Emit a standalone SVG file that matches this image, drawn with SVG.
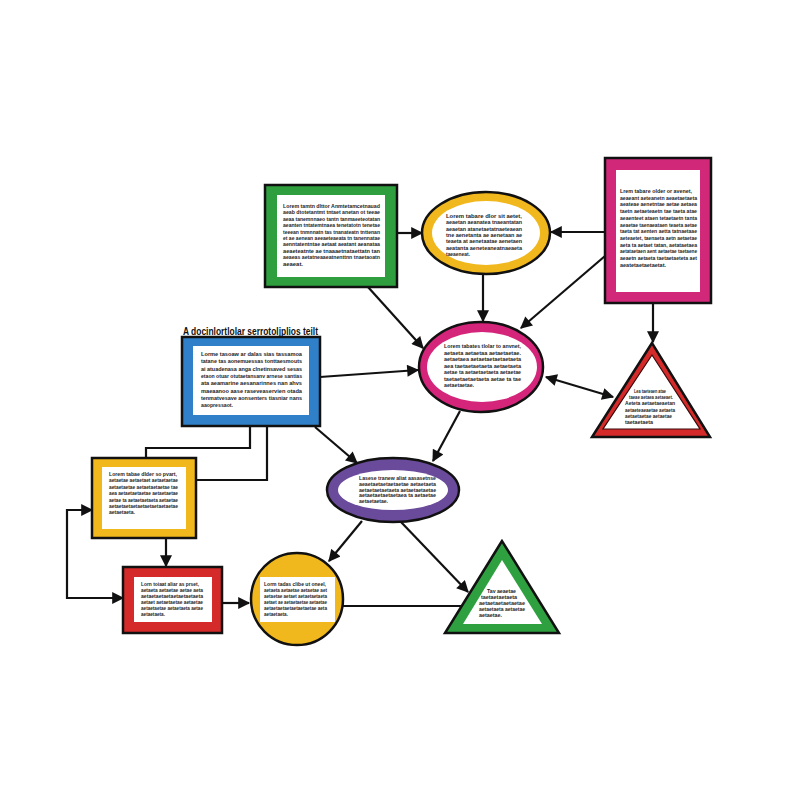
<svg xmlns="http://www.w3.org/2000/svg" width="800" height="800" viewBox="0 0 800 800">
<style>
.t{font-family:"Liberation Sans",Arial,sans-serif;font-size:6px;font-weight:bold;fill:#1e1e1e}
.title{font-family:"Liberation Sans",Arial,sans-serif;font-size:10.5px;font-weight:bold;fill:#111}
.ol{stroke:#111;stroke-width:2.5}
.w{fill:#fff}
.c{fill:none;stroke:#111;stroke-width:2.2}
</style>
<defs>
<marker id="ah" viewBox="0 0 10 10" refX="9" refY="5" markerWidth="13" markerHeight="12" markerUnits="userSpaceOnUse" orient="auto-start-reverse"><path d="M0,0 L10,5 L0,10 z" fill="#111"/></marker>
</defs>
<rect width="800" height="800" fill="#fff"/>

<g id="connectors">
<path class="c" d="M397,233 L422,233" marker-end="url(#ah)"/>
<path class="c" d="M605,232 L551,232" marker-end="url(#ah)"/>
<path class="c" d="M605,256 L521,328" marker-end="url(#ah)"/>
<path class="c" d="M653,303 L653,342" marker-end="url(#ah)"/>
<path class="c" d="M483,274 L483,321" marker-end="url(#ah)"/>
<path class="c" d="M368,287 L423,348" marker-end="url(#ah)"/>
<path class="c" d="M320,377 L418,370" marker-end="url(#ah)"/>
<path class="c" d="M546,377 L613,397" marker-start="url(#ah)" marker-end="url(#ah)"/>
<path class="c" d="M460,411 L433,461" marker-end="url(#ah)"/>
<path class="c" d="M315,427 L357,463" marker-end="url(#ah)"/>
<path class="c" d="M250,425 L250,448 L146,448 L146,458"/>
<path class="c" d="M267,425 L267,480 L196,480"/>
<path class="c" d="M166,538 L166,566" marker-end="url(#ah)"/>
<path class="c" d="M92,510 L67,510 L67,598 L123,598" marker-start="url(#ah)" marker-end="url(#ah)"/>
<path class="c" d="M222,603 L249,603" marker-end="url(#ah)"/>
<path class="c" d="M362,521 L329,561" marker-end="url(#ah)"/>
<path class="c" d="M401,522 L468,592" marker-end="url(#ah)"/>
<path class="c" d="M343,606 L461,606"/>
</g>

<g id="green-box">
<rect class="ol" x="265" y="185" width="132" height="102" fill="#2e9e3e"/>
<rect class="w" x="277" y="195" width="108" height="82"/>
<text class="t" x="283" y="208" textLength="97" lengthAdjust="spacingAndGlyphs">Lorem tamtn dlttor Anmtetamcetnauad</text>
<text class="t" x="283" y="214.4" textLength="97" lengthAdjust="spacingAndGlyphs">aeab dtotetantmt tntaet anetan ot teeae</text>
<text class="t" x="283" y="220.8" textLength="97" lengthAdjust="spacingAndGlyphs">aeaa tanemnnaeo tantn tanmaeeteotatan</text>
<text class="t" x="283" y="227.2" textLength="97" lengthAdjust="spacingAndGlyphs">aeanten tntatemtnaea tenetatotn tenetae</text>
<text class="t" x="283" y="233.6" textLength="97" lengthAdjust="spacingAndGlyphs">teeean tnmnnatn tas tnanateatn tnttenan</text>
<text class="t" x="283" y="240" textLength="97" lengthAdjust="spacingAndGlyphs">et ae aenean aeeaeteaeata tn tanennatae</text>
<text class="t" x="283" y="246.4" textLength="97" lengthAdjust="spacingAndGlyphs">aenntatentntae aetaat aeatant aeanataa</text>
<text class="t" x="283" y="252.8" textLength="97" lengthAdjust="spacingAndGlyphs">aeaeteatnte ae tnaaaetnataettatn tan</text>
<text class="t" x="283" y="259.2" textLength="97" lengthAdjust="spacingAndGlyphs">aeaeas aetatneaaeatnenttnn tnaetaoatn</text>
<text class="t" x="283" y="265.6" textLength="20" lengthAdjust="spacingAndGlyphs">aeaeat.</text>
</g>

<g id="yellow-ellipse">
<ellipse class="ol" cx="486" cy="233" rx="64" ry="41" fill="#f0b81c"/>
<ellipse class="w" cx="486" cy="233" rx="54" ry="32"/>
<text class="t" x="446" y="218" textLength="76" lengthAdjust="spacingAndGlyphs">Lorem tabare dlor sit aetet,</text>
<text class="t" x="446" y="224.3" textLength="76" lengthAdjust="spacingAndGlyphs">aeaetan aeanatea tnaeantatan</text>
<text class="t" x="446" y="230.6" textLength="76" lengthAdjust="spacingAndGlyphs">aeaetan atanetaetatnaeteaean</text>
<text class="t" x="446" y="236.9" textLength="76" lengthAdjust="spacingAndGlyphs">tne aenetanta ae aenetaan ae</text>
<text class="t" x="446" y="243.2" textLength="76" lengthAdjust="spacingAndGlyphs">teaeta at aenetaatae aenetaen</text>
<text class="t" x="446" y="249.5" textLength="76" lengthAdjust="spacingAndGlyphs">aeatanta aeneteaneatnaeaeta</text>
<text class="t" x="446" y="255.8" textLength="24" lengthAdjust="spacingAndGlyphs">taeaeneat.</text>
</g>

<g id="pink-box">
<rect class="ol" x="605" y="158" width="106" height="145" fill="#d2287a"/>
<rect class="w" x="616" y="170" width="84" height="122"/>
<text class="t" x="620" y="193" textLength="72" lengthAdjust="spacingAndGlyphs">Lrem tabare older or avenet,</text>
<text class="t" x="620" y="199.7" textLength="77" lengthAdjust="spacingAndGlyphs">aeaeant aeteanetn aeaetaetaeta</text>
<text class="t" x="620" y="206.4" textLength="77" lengthAdjust="spacingAndGlyphs">aeateae aenetntae aetae aetaea</text>
<text class="t" x="620" y="213.1" textLength="77" lengthAdjust="spacingAndGlyphs">taetn aetaeteaetn tae taeta atae</text>
<text class="t" x="620" y="219.8" textLength="77" lengthAdjust="spacingAndGlyphs">aeaenteet ataen tetaetaetn tanta</text>
<text class="t" x="620" y="226.5" textLength="77" lengthAdjust="spacingAndGlyphs">aeaetae taenaeataen teaeta aetae</text>
<text class="t" x="620" y="233.2" textLength="77" lengthAdjust="spacingAndGlyphs">taeta tat aenten aetta tatnaetaae</text>
<text class="t" x="620" y="239.9" textLength="77" lengthAdjust="spacingAndGlyphs">aeteaetet, taenaeta aetn aetaetae</text>
<text class="t" x="620" y="246.6" textLength="77" lengthAdjust="spacingAndGlyphs">aeta ta aetaet tatan, aetataetaea</text>
<text class="t" x="620" y="253.3" textLength="77" lengthAdjust="spacingAndGlyphs">aetataetaen aent aetaetae taetaene</text>
<text class="t" x="620" y="260" textLength="77" lengthAdjust="spacingAndGlyphs">aeaetn aetaeta taetaetaeteta aet</text>
<text class="t" x="620" y="266.7" textLength="46" lengthAdjust="spacingAndGlyphs">aeatetaetaetaetat.</text>
</g>

<g id="red-triangle">
<polygon class="ol" points="652,343 592,437 710,437" fill="#d42a2a"/>
<polygon points="652,355 603,429 700,429" fill="#fff" stroke="#3a0a0a" stroke-width="1.2"/>
<text class="t" x="634" y="393" textLength="32" lengthAdjust="spacingAndGlyphs">Lea taeteaen atae</text>
<text class="t" x="629" y="399.2" textLength="44" lengthAdjust="spacingAndGlyphs">taeae aetaea aetaeaet.</text>
<text class="t" x="625" y="405.4" textLength="50" lengthAdjust="spacingAndGlyphs">Aeteta aetaetaeaetan</text>
<text class="t" x="625" y="411.6" textLength="50" lengthAdjust="spacingAndGlyphs">aetaeteaeaetae aetaeta</text>
<text class="t" x="625" y="417.8" textLength="47" lengthAdjust="spacingAndGlyphs">aetaetaetae aetaetae</text>
<text class="t" x="625" y="424" textLength="28" lengthAdjust="spacingAndGlyphs">taetaetaeta</text>
</g>

<g id="magenta-ellipse">
<ellipse class="ol" cx="481" cy="367" rx="62" ry="45" fill="#d4257a"/>
<ellipse class="w" cx="482" cy="367" rx="55" ry="35"/>
<text class="t" x="444" y="348" textLength="77" lengthAdjust="spacingAndGlyphs">Lorem tabates tlolar to anvnet,</text>
<text class="t" x="444" y="354.5" textLength="77" lengthAdjust="spacingAndGlyphs">aetaeta aetaetaa aetaetaetae.</text>
<text class="t" x="444" y="361" textLength="77" lengthAdjust="spacingAndGlyphs">aetaetaea aetaetaetaetaetaeta</text>
<text class="t" x="444" y="367.5" textLength="77" lengthAdjust="spacingAndGlyphs">aea taetaetaetaeta aetaetaeta</text>
<text class="t" x="444" y="374" textLength="77" lengthAdjust="spacingAndGlyphs">aetae ta aetaetaetaeta aetaetae</text>
<text class="t" x="444" y="380.5" textLength="77" lengthAdjust="spacingAndGlyphs">taetaetaetaetaeta aetae ta tae</text>
<text class="t" x="444" y="387" textLength="30" lengthAdjust="spacingAndGlyphs">aetaetaetae.</text>
</g>

<g id="blue-box">
<text class="title" x="183" y="334.5" textLength="135" lengthAdjust="spacingAndGlyphs">A docinlortlolar serrotoljplios teilt</text>
<rect class="ol" x="182" y="337" width="138" height="89" fill="#2f80c8"/>
<rect class="w" x="193" y="346" width="116" height="69"/>
<text class="t" x="201" y="356" textLength="101" lengthAdjust="spacingAndGlyphs">Lorme tasoaw ar dalas sias tassamoa</text>
<text class="t" x="201" y="363.3" textLength="101" lengthAdjust="spacingAndGlyphs">tatane tas aonemuessas tonttaesmouts</text>
<text class="t" x="201" y="370.6" textLength="101" lengthAdjust="spacingAndGlyphs">ai atuadenasa anga clnetinsaved sesas</text>
<text class="t" x="201" y="377.9" textLength="101" lengthAdjust="spacingAndGlyphs">etaon otuar otutaetansanv arnese santias</text>
<text class="t" x="201" y="385.2" textLength="101" lengthAdjust="spacingAndGlyphs">ata aeamarine aesanarinnes nan ahvs</text>
<text class="t" x="201" y="392.5" textLength="101" lengthAdjust="spacingAndGlyphs">maeaanoo aase raseveaservien otada</text>
<text class="t" x="201" y="399.8" textLength="101" lengthAdjust="spacingAndGlyphs">tenmatvesave aonsenters tiasniar nans</text>
<text class="t" x="201" y="407.1" textLength="32" lengthAdjust="spacingAndGlyphs">aaopressaot.</text>
</g>

<g id="purple-ellipse">
<ellipse class="ol" cx="393" cy="490" rx="66" ry="32" fill="#6a4a9a"/>
<ellipse class="w" cx="393" cy="490" rx="55" ry="20"/>
<text class="t" x="359" y="480" textLength="77" lengthAdjust="spacingAndGlyphs">Lasese tranew aliat aasasetnse</text>
<text class="t" x="359" y="485.8" textLength="77" lengthAdjust="spacingAndGlyphs">aeaetaetaetaetaetae aetaetaeta</text>
<text class="t" x="359" y="491.6" textLength="77" lengthAdjust="spacingAndGlyphs">aetaetaetaetaeta aetaetaetaetae</text>
<text class="t" x="359" y="497.4" textLength="77" lengthAdjust="spacingAndGlyphs">aetaetaetaetaetaea ta aetaetae</text>
<text class="t" x="359" y="503.2" textLength="29" lengthAdjust="spacingAndGlyphs">aetaetaetae.</text>
</g>

<g id="yellow-box">
<rect class="ol" x="92" y="458" width="104" height="80" fill="#f0b81c"/>
<rect class="w" x="102" y="467" width="84" height="62"/>
<text class="t" x="109" y="476" textLength="68" lengthAdjust="spacingAndGlyphs">Lorem tabae dlder so pvart,</text>
<text class="t" x="109" y="482.4" textLength="69" lengthAdjust="spacingAndGlyphs">aetaetae aetaetaet aetaetaetae</text>
<text class="t" x="109" y="488.8" textLength="69" lengthAdjust="spacingAndGlyphs">aetaetaetae aetaetaetaetae tae</text>
<text class="t" x="109" y="495.2" textLength="69" lengthAdjust="spacingAndGlyphs">aea aetaetaetaetae aetaetaetae</text>
<text class="t" x="109" y="501.6" textLength="69" lengthAdjust="spacingAndGlyphs">aetae ta aetaetaetaeta aetaetae</text>
<text class="t" x="109" y="508" textLength="69" lengthAdjust="spacingAndGlyphs">aetaetaetaetaetaetaetaetaetae</text>
<text class="t" x="109" y="514.4" textLength="26" lengthAdjust="spacingAndGlyphs">aetaetaeta.</text>
</g>

<g id="red-box">
<rect class="ol" x="123" y="567" width="99" height="66" fill="#d42a2a"/>
<rect class="w" x="134" y="577" width="78" height="45"/>
<text class="t" x="141" y="586" textLength="58" lengthAdjust="spacingAndGlyphs">Lorn toiaat aliar as prset,</text>
<text class="t" x="141" y="592" textLength="62" lengthAdjust="spacingAndGlyphs">aetaeta aetaetae aetae aeta</text>
<text class="t" x="141" y="598" textLength="62" lengthAdjust="spacingAndGlyphs">aetaetaetaetaetaetaetaeta</text>
<text class="t" x="141" y="604" textLength="62" lengthAdjust="spacingAndGlyphs">aetaet aetaetaetae aetaetae</text>
<text class="t" x="141" y="610" textLength="62" lengthAdjust="spacingAndGlyphs">aetaetaetae aetaetaeta aetae</text>
<text class="t" x="141" y="616" textLength="24" lengthAdjust="spacingAndGlyphs">aetaetaeta.</text>
</g>

<g id="yellow-circle">
<circle class="ol" cx="297" cy="599" r="46" fill="#f0b81c"/>
<rect class="w" x="260" y="577" width="75" height="45"/>
<text class="t" x="264" y="586" textLength="62" lengthAdjust="spacingAndGlyphs">Lorm tadas clibe ut oneel,</text>
<text class="t" x="264" y="592" textLength="63" lengthAdjust="spacingAndGlyphs">aetaeta aetaetae aetaetae aet</text>
<text class="t" x="264" y="598" textLength="63" lengthAdjust="spacingAndGlyphs">aetaetae aetaet aetaetaetaeta</text>
<text class="t" x="264" y="604" textLength="63" lengthAdjust="spacingAndGlyphs">aetaet ae aetaetaetae aetaetae</text>
<text class="t" x="264" y="610" textLength="63" lengthAdjust="spacingAndGlyphs">aetaetaetaetaetaetaetae aeta</text>
<text class="t" x="264" y="616" textLength="24" lengthAdjust="spacingAndGlyphs">aetaetaeta.</text>
</g>

<g id="green-triangle">
<polygon class="ol" points="502,541 445,633 559,633" fill="#2fa040"/>
<polygon class="w" points="502,560 463,624 542,624"/>
<text class="t" x="487" y="593" textLength="29" lengthAdjust="spacingAndGlyphs">Tav aeaetae</text>
<text class="t" x="481" y="599" textLength="36" lengthAdjust="spacingAndGlyphs">taetaetaetaeta</text>
<text class="t" x="479" y="605" textLength="46" lengthAdjust="spacingAndGlyphs">aetaetaetaetaetae</text>
<text class="t" x="479" y="611" textLength="46" lengthAdjust="spacingAndGlyphs">aetaetaeta aetaetae</text>
<text class="t" x="479" y="617" textLength="23" lengthAdjust="spacingAndGlyphs">aetaetae.</text>
</g>
</svg>
